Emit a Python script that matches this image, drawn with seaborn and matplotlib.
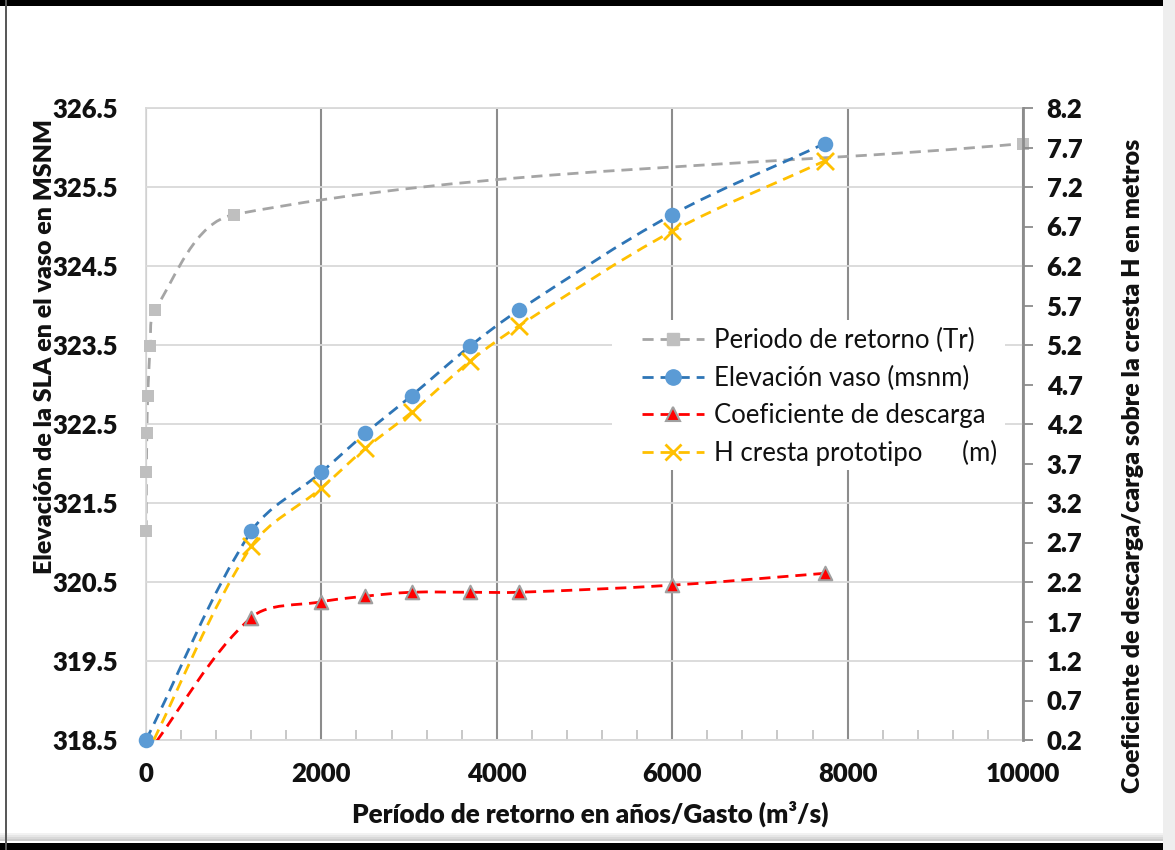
import numpy as np
import matplotlib
matplotlib.use("Agg")
import matplotlib.pyplot as plt
import seaborn as sns
from matplotlib import font_manager
from matplotlib.path import Path
from matplotlib.patches import PathPatch, Rectangle
from matplotlib.lines import Line2D

# ---------------- data ----------------
tr_x = [2, 5, 10, 20, 50, 100, 1000, 10000]                    # return period (years)
tr_y = [321.14, 321.89, 322.38, 322.86, 323.49, 323.94, 325.15, 326.05]

q_x = [0, 1200, 2000, 2500, 3030, 3700, 4250, 6000, 7740]      # discharge (m3/s)
elev = [318.5, 321.14, 321.89, 322.38, 322.86, 323.49, 323.94, 325.15, 326.05]
coef = [0.0, 1.75, 1.95, 2.02, 2.07, 2.07, 2.07, 2.16, 2.31]
hcrest = [0.0, 2.65, 3.39, 3.89, 4.35, 5.00, 5.44, 6.64, 7.53]

left_ticks = [318.5, 319.5, 320.5, 321.5, 322.5, 323.5, 324.5, 325.5, 326.5]
right_ticks = [0.2, 0.7, 1.2, 1.7, 2.2, 2.7, 3.2, 3.7, 4.2, 4.7, 5.2, 5.7, 6.2, 6.7, 7.2, 7.7, 8.2]
x_ticks = [0, 2000, 4000, 6000, 8000, 10000]

labels = ["Periodo de retorno (Tr)", "Elevación vaso (msnm)",
          "Coeficiente de descarga", "H cresta prototipo      (m)"]

# ---------------- style ----------------
sns.set_theme(style="white")


def pick_bold(cands):
    for c in cands:
        for f in font_manager.fontManager.ttflist:
            w = f.weight if isinstance(f.weight, int) else 400
            if f.name == c and w >= 600 and f.style == "normal":
                return c
    return "DejaVu Sans"


BOLD_FAM = pick_bold(["Lato", "Open Sans", "Noto Sans", "Roboto", "Inter", "Liberation Sans"])
REG_FAM = "Lato"
plt.rcParams["font.family"] = [REG_FAM, "DejaVu Sans"]
BW = 800

W, H = 1175, 850
fig = plt.figure(figsize=(W / 100, H / 100), dpi=100)
fig.patch.set_facecolor("white")
L, R, T, B = 146, 1023, 108, 740
ax = fig.add_axes([L / W, 1 - B / H, (R - L) / W, (B - T) / H])
ax2 = ax.twinx()

ax.set_xlim(0, 10000)
ax.set_ylim(318.5, 326.5)
ax2.set_ylim(0.2, 8.2)

c_gray_l, c_gray_m = "#A5A5A5", "#BFBFBF"
c_blue_l, c_blue_m = "#2E75B6", "#5B9BD5"
c_red = "#FF0000"
c_yel = "#FFC000"
DASH = (0, (4, 2.5))


def smooth_line(a, xs, ys, color, lw=2.0):
    pts = a.transData.transform(np.column_stack([xs, ys]))
    n = len(pts)
    verts = [pts[0]]
    codes = [Path.MOVETO]
    for i in range(n - 1):
        p0 = pts[i - 1] if i > 0 else pts[i]
        p1 = pts[i]
        p2 = pts[i + 1]
        p3 = pts[i + 2] if i + 2 < n else pts[i + 1]
        d12 = np.linalg.norm(p2 - p1)
        d01 = np.linalg.norm(p1 - p0)
        d23 = np.linalg.norm(p3 - p2)
        f1 = d12 / (d01 + d12) / 3.0 if d01 > 0 else 1 / 3.0
        f2 = d12 / (d12 + d23) / 3.0 if d23 > 0 else 1 / 3.0
        c1 = p1 + (p2 - p0) * f1 if d01 > 0 else p1 + (p2 - p1) / 3.0
        c2 = p2 - (p3 - p1) * f2 if d23 > 0 else p2 - (p2 - p1) / 3.0
        verts += [c1, c2, p2]
        codes += [Path.CURVE4] * 3
    v = a.transData.inverted().transform(np.array(verts))
    patch = PathPatch(Path(v, codes), facecolor="none", edgecolor=color,
                      lw=lw, linestyle=DASH, zorder=2)
    a.add_patch(patch)


# grid
ax.set_yticks(left_ticks)
ax.set_xticks(x_ticks)
ax.yaxis.grid(True, color="#D9D9D9", lw=1.3)
ax.xaxis.grid(True, color="#8C8C8C", lw=1.5)
ax.set_axisbelow(True)
ax.set_xticks(np.arange(0, 10001, 400), minor=True)
ax.tick_params(axis="x", which="minor", direction="in", length=7, width=1.2,
               color="#BFBFBF", bottom=True)
ax.tick_params(axis="x", which="major", length=0, pad=16)
ax.tick_params(axis="y", which="major", length=0, pad=20)

for s in ["left", "top", "bottom"]:
    ax.spines[s].set_color("#D9D9D9")
    ax.spines[s].set_linewidth(1.3)
ax.spines["right"].set_visible(False)
for s in ["left", "top", "bottom"]:
    ax2.spines[s].set_visible(False)
ax2.spines["right"].set_color("#8C8C8C")
ax2.spines["right"].set_linewidth(2.0)

ax2.set_yticks(right_ticks)
ax2.tick_params(axis="y", direction="out", length=7, width=1.3, color="#8C8C8C", pad=10)

tick_font = dict(fontsize=18.5, fontweight=BW, color="#111111", family=[BOLD_FAM, "DejaVu Sans"])
ax.set_xticklabels([str(t) for t in x_ticks], **tick_font)
ax.set_yticklabels([f"{t:.1f}" for t in left_ticks], **tick_font)
ax2.set_yticklabels([f"{t:.1f}" for t in right_ticks], **tick_font)

# white legend background (covers gridlines like the original)
ax.add_patch(Rectangle((0.531, 0.427), 0.449, 0.237, transform=ax.transAxes,
                       facecolor="white", edgecolor="none", zorder=1))

# lines (smoothed, dashed)
smooth_line(ax, tr_x, tr_y, c_gray_l)
smooth_line(ax, q_x, elev, c_blue_l)
smooth_line(ax2, q_x, coef, c_red)
smooth_line(ax2, q_x, hcrest, c_yel)

# markers
sns.scatterplot(x=tr_x, y=tr_y, ax=ax, marker="s", s=80, color=c_gray_m,
                edgecolor=c_gray_m, linewidth=0, zorder=3, clip_on=False)
sns.scatterplot(x=q_x, y=elev, ax=ax, marker="o", s=125, color=c_blue_m,
                edgecolor=c_blue_m, linewidth=0, zorder=3, clip_on=False)
sns.scatterplot(x=q_x[1:], y=coef[1:], ax=ax2, marker="^", s=95, color=c_red,
                edgecolor="#A0A0A0", linewidth=1.5, zorder=3)
sns.scatterplot(x=q_x[1:], y=hcrest[1:], ax=ax2, marker="x", s=150, color=c_yel,
                linewidth=2.0, zorder=3)

# axis labels
lab_font = dict(fontsize=18, fontweight=BW, color="#111111", family=[BOLD_FAM, "DejaVu Sans"])
ax.set_xlabel("Período de retorno en años/Gasto (m³/s)", fontsize=18.8, fontweight=BW,
              color="#111111", family=[BOLD_FAM, "DejaVu Sans"])
ax.xaxis.set_label_coords(0.506, -0.096)
ax.set_ylabel("Elevación de la SLA en el vaso en MSNM", **lab_font)
ax.yaxis.set_label_coords(-0.103, 0.623)
ax2.set_ylabel("Coeficiente de descarga/carga sobre la cresta H en metros", **lab_font)
ax2.yaxis.set_label_coords(1.113, 0.434)

# legend
handles = [
    Line2D([], [], color=c_gray_l, ls=DASH, lw=2, marker="s", ms=9,
           mfc=c_gray_m, mec=c_gray_m),
    Line2D([], [], color=c_blue_l, ls=DASH, lw=2, marker="o", ms=11,
           mfc=c_blue_m, mec=c_blue_m),
    Line2D([], [], color=c_red, ls=DASH, lw=2, marker="^", ms=10,
           mfc=c_red, mec="#A0A0A0", mew=1.5),
    Line2D([], [], color=c_yel, ls=DASH, lw=2, marker="x", ms=11, mew=2),
]
leg = ax2.legend(handles, labels, loc="upper left",
                 bbox_to_anchor=(642 / W, 1 - 328 / H), bbox_transform=fig.transFigure,
                 frameon=False, fontsize=18.5, numpoints=1, handlelength=2.4,
                 handletextpad=0.4, labelspacing=0.48, borderpad=0, borderaxespad=0)
for t in leg.get_texts():
    t.set_color("#111111")

# screenshot frame
fig.add_artist(Rectangle((0, 1 - 6 / H), 1, 6 / H, transform=fig.transFigure,
                         facecolor="black", edgecolor="none"))
fig.add_artist(Rectangle((0, 0), 1, 7 / H, transform=fig.transFigure,
                         facecolor="black", edgecolor="none"))
for i, c in enumerate(["#f2f2f2", "#e6e6e6", "#d9d9d9", "#cccccc"]):
    fig.add_artist(Rectangle((0, (7 + 8 - 2 * i) / H), 1, 2 / H, transform=fig.transFigure,
                             facecolor=c, edgecolor="none"))
fig.add_artist(Rectangle((5 / W, 0), 2 / W, 1, transform=fig.transFigure,
                         facecolor="#595959", edgecolor="none"))
fig.add_artist(Rectangle((1163 / W, 0), 12 / W, 1, transform=fig.transFigure,
                         facecolor="#eeeeee", edgecolor="none"))

fig.savefig("out.png", dpi=100, facecolor="white")
